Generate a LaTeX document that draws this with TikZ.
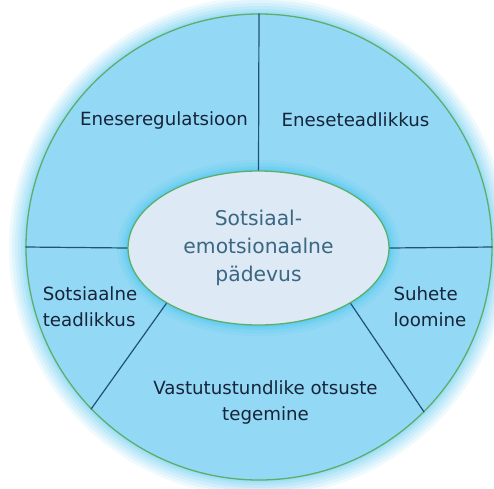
\documentclass[tikz,border=0pt]{standalone}
\usepackage{fontspec}
\setmainfont{DejaVu Sans}
\usetikzlibrary{shapes.geometric}
\definecolor{ringfill}{HTML}{93D8F4}
\definecolor{corefill}{HTML}{DDE9F5}
\definecolor{edgegreen}{HTML}{5DAE6C}
\definecolor{divline}{HTML}{1F5274}
\definecolor{glowblue}{HTML}{7FD3F2}
\definecolor{halo}{HTML}{45C8F2}
\definecolor{outertext}{HTML}{16243A}
\definecolor{coretext}{HTML}{3A6782}
\tikzset{
  ring/.style={circle, minimum size=466pt, inner sep=0pt, fill=ringfill, draw=edgegreen, line width=1.3pt},
  core/.style={ellipse, minimum width=261pt, minimum height=154pt, inner sep=0pt, fill=corefill, draw=edgegreen, line width=1.3pt,
     font=\fontsize{20.3}{28}\selectfont, text=coretext, align=center},
  divider/.style={draw=divline, line width=1.2pt},
  label/.style={font=\fontsize{18.2}{26}\selectfont, text=outertext, inner sep=0pt}
}
\begin{document}
\begin{tikzpicture}[x=1pt,y=-1pt]
\useasboundingbox (0,0) rectangle (494,488);
% outer glow
\foreach \w/\o in {34/0.12,28/0.14,22/0.16,16/0.2,10/0.25,5/0.3}
  \draw[glowblue, opacity=\o, line width=\w pt] (259,247) circle (233);
\node[ring] (outer) at (259,247) {};
% halo around the core
\foreach \w/\o in {22/0.10,16/0.14,10/0.2,5/0.3}
  \draw[halo, opacity=\o, line width=\w pt] (258.5,248) ellipse (130.5 and 77);
% dividers
\path[divider] (outer.north) -- (258.5,171) coordinate (ctop);
\path[divider] (outer.west) -- (128,248) coordinate (cwest);
\path[divider] (389,248) coordinate (ceast) -- (outer.east);
\node[core] (core) at (258.5,248) {Sotsiaal-\\emotsionaalne\\pädevus};
\path[divider] (core.211) -- (outer.224.7);
\path[divider] (core.329) -- (outer.315.3);
% labels
\node[label] (t1) at (164,120) {Eneseregulatsioon};
\node[label] (t2) at (355.5,120) {Eneseteadlikkus};
\node[label, align=left] (t3) at (90,307) {Sotsiaalne\\teadlikkus};
\node[label, align=left] (t4) at (430,307) {Suhete\\loomine};
\node[label, align=center] (t5) at (265.5,402) {Vastutustundlike otsuste\\tegemine};
\end{tikzpicture}
\end{document}
